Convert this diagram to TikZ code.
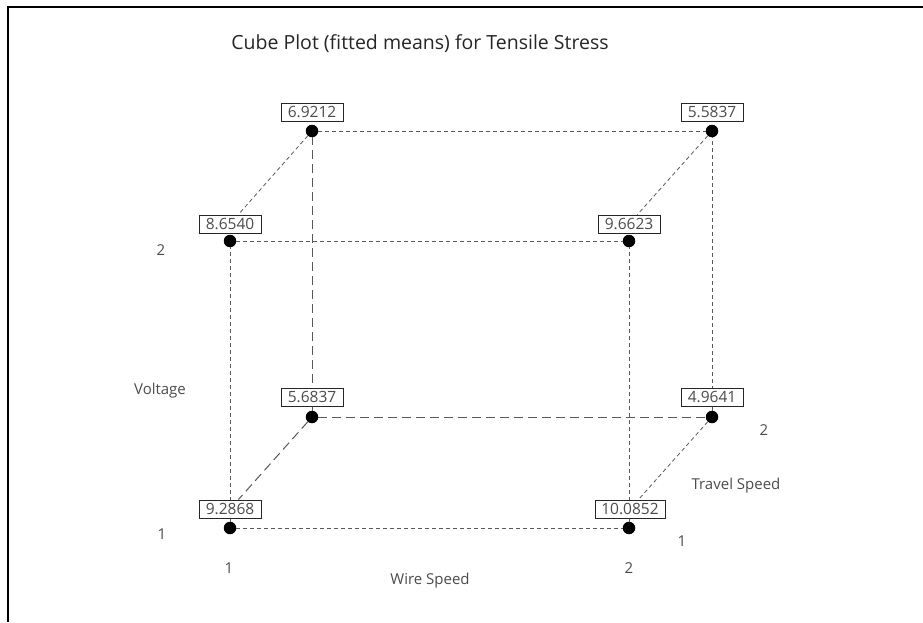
\documentclass[tikz,border=0pt]{standalone}
\usepackage{fontspec}
\setmainfont{Open Sans}
\begin{document}
\begin{tikzpicture}[x=1pt,y=-1pt,
  txt/.style={text=black!70, font=\fontsize{15}{17}\selectfont, inner sep=0pt},
  valbox/.style={draw=black!85, line width=0.9pt, fill=white, text=black!70, font=\fontsize{15.5}{17}\selectfont, inner sep=0pt, minimum width=62pt, minimum height=18pt},
  dot/.style={circle, fill=black, inner sep=0pt, minimum size=12.5pt},
  shortd/.style={draw=black!65, line width=0.9pt, dash pattern=on 4pt off 3pt},
  longd/.style={draw=black!65, line width=1pt, dash pattern=on 9pt off 5pt},
  fined/.style={draw=black!65, line width=0.8pt, dash pattern=on 4pt off 3pt}
]
\useasboundingbox (0,0) rectangle (923,622);
\fill[white] (0,0) rectangle (923,622);
\coordinate (fa) at (923,7);
\coordinate (fc) at (8,7);
\coordinate (fb) at (8,622);
\draw[line width=1.2pt] (fa) -- (fc) -- (fb);

\node[text=black!85, font=\fontsize{19.5}{22}\selectfont] (title) at (420,44) {Cube Plot (fitted means) for Tensile Stress};

% dots
\node[dot] (p111) at (230,528) {};
\node[dot] (p211) at (629,528) {};
\node[dot] (p112) at (230,241) {};
\node[dot] (p212) at (629,241) {};
\node[dot] (p121) at (312,417) {};
\node[dot] (p221) at (712,417) {};
\node[dot] (p122) at (312,131) {};
\node[dot] (p222) at (712,131) {};

% edges
\draw[shortd] (p111) -- (p211);
\draw[shortd] (p112) -- (p212);
\draw[shortd] (p122) -- (p222);
\draw[shortd] (p111) -- (p112);
\draw[shortd] (p211) -- (p212);
\draw[shortd] (p221) -- (p222);
\draw[longd] (p121) -- (p221);
\draw[longd] (p121) -- (p122);

% boxes
\node[valbox] (b111) at (230,509) {9.2868};
\node[valbox, minimum width=70pt] (b211) at (630,509) {10.0852};
\node[valbox] (b112) at (230,224) {8.6540};
\node[valbox] (b212) at (629,224) {9.6623};
\node[valbox] (b121) at (312,397) {5.6837};
\node[valbox] (b221) at (712,397) {4.9641};
\node[valbox] (b122) at (312,112) {6.9212};
\node[valbox] (b222) at (712,112) {5.5837};

\draw[longd] (p121) -- (b111);
\draw[fined] (p122) -- (b112);
\draw[fined] (p222) -- (b212);
\draw[fined] (p221) -- (b211);

% axis labels
\node[txt] (v2) at (161,250) {2};
\node[txt] (vl) at (160,391) {Voltage};
\node[txt] (v1) at (162,534) {1};
\node[txt] (w1) at (229,568) {1};
\node[txt] (w2) at (629,568) {2};
\node[txt] (wl) at (430,581) {Wire Speed};
\node[txt] (t2) at (764,430) {2};
\node[txt] (tl) at (736,486) {Travel Speed};
\node[txt] (t1) at (682,541) {1};
\end{tikzpicture}
\end{document}
